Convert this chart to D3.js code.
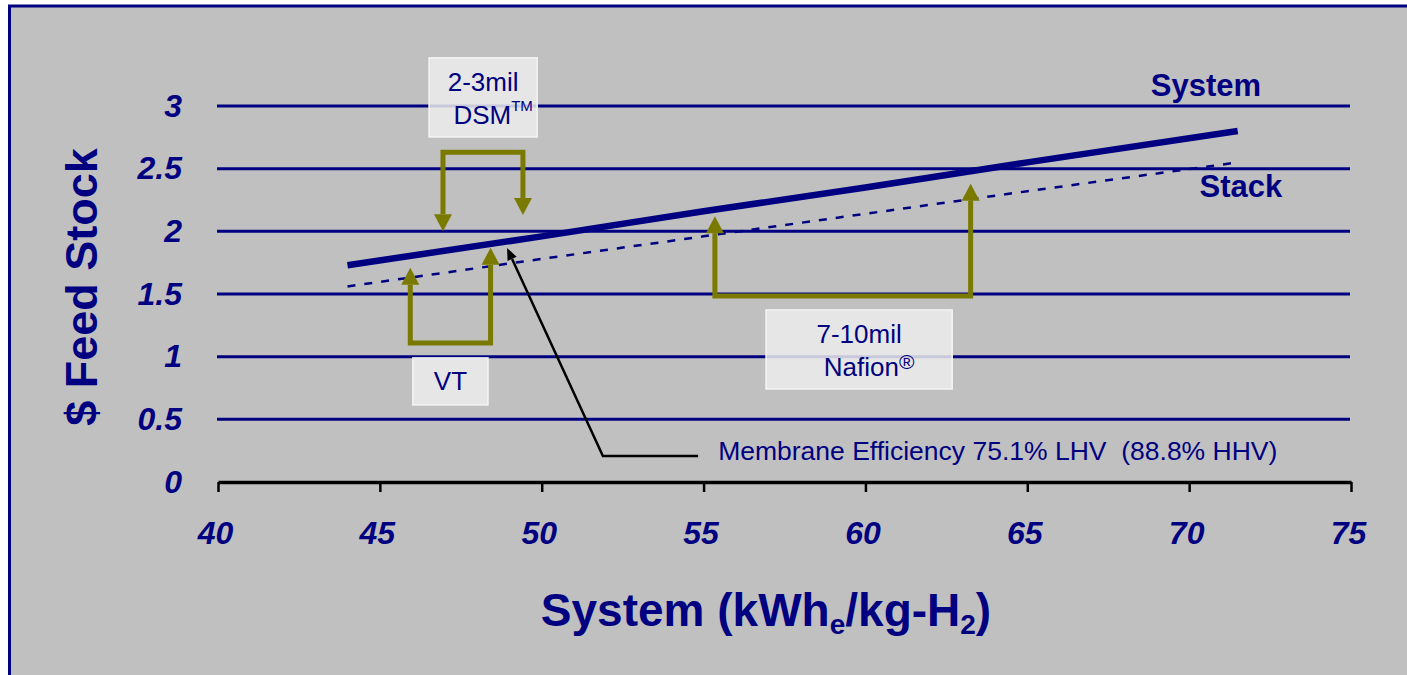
<!DOCTYPE html>
<html>
<head>
<meta charset="utf-8">
<script src="https://cdn.jsdelivr.net/npm/d3@7"></script>
<style>
  body { margin: 0; background: #ffffff; }
  svg { display: block; font-family: "Liberation Sans", Arial, sans-serif; }
</style>
</head>
<body>
<svg id="chart"></svg>
<script>
// values
const xTickValues = [40, 45, 50, 55, 60, 65, 70, 75];
const yTickValues = [0, 0.5, 1, 1.5, 2, 2.5, 3];
const efficiency = [44, 50, 55, 60, 65, 71.5];          // kWh_e / kg-H2
const systemCost = [1.73, 1.96, 2.16, 2.35, 2.55, 2.80]; // $ feed stock, system
const stackCost  = [1.56, 1.78, 1.96, 2.14, 2.32, 2.55]; // $ feed stock, stack

// bracket arrows (data units): x0/x1 legs, base level, tip of each leg
const bracketX0   = [46.95, 45.94, 55.35];
const bracketX1   = [49.42, 48.42, 63.25];
const bracketBase = [2.63, 1.11, 1.485];
const bracketTip0 = [2.00, 1.71, 2.12];
const bracketTip1 = [2.13, 1.87, 2.38];

// label boxes
const boxLine1 = ['2-3mil', 'VT', '7-10mil'];
const boxLine2 = ['DSM', '', 'Nafion'];
const boxSup   = ['TM', '', '\u00AE'];
const boxX0 = [46.52, 46.02, 56.93];
const boxX1 = [49.86, 48.34, 62.68];
const boxY0 = [3.384, 0.99, 1.373];
const boxY1 = [2.753, 0.615, 0.742];

const noteText = 'Membrane Efficiency 75.1% LHV  (88.8% HHV)';

class FeedStockChart {
  constructor(_config) {
    this.config = {
      parentElement: _config.parentElement,
      containerWidth: _config.containerWidth || 1407,
      containerHeight: _config.containerHeight || 675,
      margin: _config.margin || {top: 106, right: 56, bottom: 193, left: 218}
    }
    this.initVis();
  }

  initVis() {
    let vis = this;
    vis.width = vis.config.containerWidth - vis.config.margin.left - vis.config.margin.right;
    vis.height = vis.config.containerHeight - vis.config.margin.top - vis.config.margin.bottom;

    vis.navy = '#000080';
    vis.olive = '#7a7a00';

    vis.xScale = d3.scaleLinear().domain([40, 75]).range([0, vis.width]);
    vis.yScale = d3.scaleLinear().domain([0, 3]).range([vis.height, 0]);

    vis.svg = d3.select(vis.config.parentElement)
      .attr('width', vis.config.containerWidth)
      .attr('height', vis.config.containerHeight);

    // grey panel, only top and left border visible
    vis.svg.append('rect')
      .attr('x', 9.5).attr('y', 6)
      .attr('width', vis.config.containerWidth + 20)
      .attr('height', vis.config.containerHeight + 20)
      .attr('fill', '#c0c0c0')
      .attr('stroke', vis.navy)
      .attr('stroke-width', 3);

    vis.chart = vis.svg.append('g')
      .attr('transform', `translate(${vis.config.margin.left},${vis.config.margin.top})`);

    vis.renderVis();
  }

  renderVis() {
    let vis = this;
    const x = vis.xScale, y = vis.yScale;

    // horizontal grid lines
    vis.chart.append('g').selectAll('line')
      .data(yTickValues.filter(d => d > 0))
      .join('line')
        .attr('x1', -1).attr('x2', vis.width - 1)
        .attr('y1', d => y(d)).attr('y2', d => y(d))
        .attr('stroke', vis.navy)
        .attr('stroke-width', 3);

    // x axis
    const xAxis = d3.axisBottom(x).tickValues(xTickValues).tickSize(10).tickSizeOuter(0);
    const xAxisG = vis.chart.append('g')
      .attr('transform', `translate(0,${vis.height})`)
      .call(xAxis);
    xAxisG.select('.domain').attr('stroke', '#000').attr('stroke-width', 3.5);
    xAxisG.selectAll('.tick line').attr('stroke', '#000').attr('stroke-width', 2.5);
    xAxisG.selectAll('.tick text')
      .attr('y', 62).attr('dy', 0).attr('dx', -3)
      .attr('fill', vis.navy)
      .attr('font-family', '"Liberation Sans", Arial, sans-serif')
      .attr('font-size', 32)
      .attr('font-weight', 'bold')
      .attr('font-style', 'italic');

    // y axis labels
    const yAxis = d3.axisLeft(y).tickValues(yTickValues).tickSize(0).tickFormat(d => String(d));
    const yAxisG = vis.chart.append('g').call(yAxis);
    yAxisG.select('.domain').remove();
    yAxisG.selectAll('.tick text')
      .attr('x', -36).attr('dy', 0).attr('y', 10)
      .attr('fill', vis.navy)
      .attr('font-family', '"Liberation Sans", Arial, sans-serif')
      .attr('font-size', 32)
      .attr('font-weight', 'bold')
      .attr('font-style', 'italic');

    // series lines
    const line = d3.line().x(d => x(d[0])).y(d => y(d[1]));
    vis.chart.append('path')
      .datum(d3.zip(efficiency, stackCost))
      .attr('d', line)
      .attr('fill', 'none')
      .attr('stroke', vis.navy)
      .attr('stroke-width', 2.5)
      .attr('stroke-dasharray', '8,9');
    vis.chart.append('path')
      .datum(d3.zip(efficiency, systemCost))
      .attr('d', line)
      .attr('fill', 'none')
      .attr('stroke', vis.navy)
      .attr('stroke-width', 6.5);

    // series labels
    vis.chart.append('text')
      .attr('x', x(70.52)).attr('y', y(3.08))
      .attr('text-anchor', 'middle')
      .attr('font-size', 31).attr('font-weight', 'bold')
      .attr('fill', vis.navy)
      .text('System');
    vis.chart.append('text')
      .attr('x', x(71.6)).attr('y', y(2.27))
      .attr('text-anchor', 'middle')
      .attr('font-size', 31).attr('font-weight', 'bold')
      .attr('fill', vis.navy)
      .text('Stack');

    // olive bracket arrows
    const head = 17, half = 9;
    bracketX0.forEach((bx, i) => {
      const xa = x(bx), xb = x(bracketX1[i]);
      const base = y(bracketBase[i]);
      const ta = y(bracketTip0[i]), tb = y(bracketTip1[i]);
      const dir = ta > base ? 1 : -1;
      vis.chart.append('path')
        .attr('d', `M${xa},${ta - dir * head} L${xa},${base} L${xb},${base} L${xb},${tb - dir * head}`)
        .attr('fill', 'none')
        .attr('stroke', vis.olive)
        .attr('stroke-width', 5)
        .attr('stroke-linejoin', 'miter');
      [[xa, ta], [xb, tb]].forEach(p => {
        vis.chart.append('polygon')
          .attr('points', `${p[0]},${p[1]} ${p[0] - half},${p[1] - dir * head} ${p[0] + half},${p[1] - dir * head}`)
          .attr('fill', vis.olive);
      });
    });

    // label boxes
    boxLine1.forEach((t, i) => {
      const bx = x(boxX0[i]), bw = x(boxX1[i]) - x(boxX0[i]);
      const by = y(boxY0[i]), bh = y(boxY1[i]) - y(boxY0[i]);
      vis.chart.append('rect')
        .attr('x', bx).attr('y', by)
        .attr('width', bw).attr('height', bh)
        .attr('fill', '#ececec')
        .attr('fill-opacity', 0.85)
        .attr('stroke', '#f4f4f4')
        .attr('stroke-width', 1.5);
      const cx = bx + bw / 2;
      if (boxLine2[i] === '') {
        vis.chart.append('text')
          .attr('x', cx).attr('y', by + bh / 2 + 9)
          .attr('text-anchor', 'middle')
          .attr('font-size', 26).attr('fill', vis.navy)
          .text(t);
      } else {
        vis.chart.append('text')
          .attr('x', cx).attr('y', by + 33)
          .attr('text-anchor', 'middle')
          .attr('font-size', 26).attr('fill', vis.navy)
          .text(t);
        const t2 = vis.chart.append('text')
          .attr('x', cx + 10).attr('y', by + 66)
          .attr('text-anchor', 'middle')
          .attr('font-size', 26).attr('fill', vis.navy);
        t2.append('tspan').text(boxLine2[i]);
        const supSize = boxSup[i] === 'TM' ? 15 : 21;
        const supRise = boxSup[i] === 'TM' ? 13 : 7;
        t2.append('tspan')
          .attr('font-size', supSize)
          .attr('dy', -supRise)
          .text(boxSup[i]);
      }
    });

    // membrane efficiency leader
    const tip = [x(48.93), y(1.867)];
    const elbow = [x(51.89), y(0.207)];
    const end = [x(54.83), y(0.207)];
    const ang = Math.atan2(tip[1] - elbow[1], tip[0] - elbow[0]);
    const hl = 12, hw = 5;
    const bxp = tip[0] - hl * Math.cos(ang), byp = tip[1] - hl * Math.sin(ang);
    vis.chart.append('path')
      .attr('d', `M${bxp},${byp} L${elbow[0]},${elbow[1]} L${end[0]},${end[1]}`)
      .attr('fill', 'none')
      .attr('stroke', '#000')
      .attr('stroke-width', 2.5);
    vis.chart.append('polygon')
      .attr('points', [
        tip,
        [bxp + hw * Math.sin(ang), byp - hw * Math.cos(ang)],
        [bxp - hw * Math.sin(ang), byp + hw * Math.cos(ang)]
      ].map(p => p.join(',')).join(' '))
      .attr('fill', '#000');
    vis.chart.append('text')
      .attr('x', x(55.45)).attr('y', y(0.176))
      .attr('font-size', 26.5)
      .attr('fill', vis.navy)
      .style('white-space', 'pre')
      .text(noteText);

    // axis titles
    vis.svg.append('text')
      .attr('transform', 'translate(97,287) rotate(-90)')
      .attr('text-anchor', 'middle')
      .attr('font-size', 45).attr('font-weight', 'bold')
      .attr('fill', vis.navy)
      .text('$ Feed Stock');

    const xt = vis.svg.append('text')
      .attr('x', 766).attr('y', 626)
      .attr('text-anchor', 'middle')
      .attr('font-size', 46).attr('font-weight', 'bold')
      .attr('fill', vis.navy);
    xt.append('tspan').text('System (kWh');
    xt.append('tspan').attr('font-size', 28).attr('dy', 8).text('e');
    xt.append('tspan').attr('dy', -8).text('/kg-H');
    xt.append('tspan').attr('font-size', 28).attr('dy', 8).text('2');
    xt.append('tspan').attr('dy', -8).text(')');
  }
}

new FeedStockChart({parentElement: '#chart'});
</script>
</body>
</html>
